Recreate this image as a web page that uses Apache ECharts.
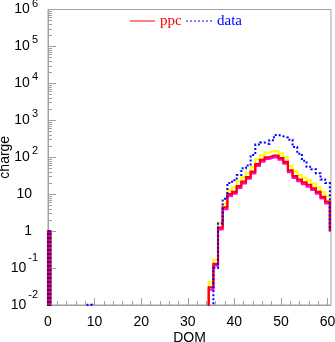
<!DOCTYPE html>
<html><head><meta charset="utf-8">
<script src="https://cdn.jsdelivr.net/npm/echarts@6/dist/echarts.min.js"></script>
<style>html,body{margin:0;padding:0;background:#fff}#c{width:335px;height:342px}</style>
</head><body><div id="c"></div>
<script>
// DOM bins 0..60 (bin centred on the integer)
const domBins = [];
for (let i = 0; i <= 60; i++) domBins.push(i);

// charge per DOM, simulation (ppc) -- 0 means empty bin
const ppc = [1, 0,0,0,0,0,0,0,0,0,0, 0,0,0,0,0,0,0,0,0,0, 0,0,0,0,0,0,0,0,0,0, 0,0,0,0,
  0.03, 0.13, 1.25, 4.4, 10, 11.5, 16.5, 22, 29, 41, 65, 85, 100, 110, 110, 95, 75, 44, 31, 25, 21, 18, 14.5, 11.5, 8.5, 6.3];
// upper band of simulation
const ppcUpper = [1, 0,0,0,0,0,0,0,0,0,0, 0,0,0,0,0,0,0,0,0,0, 0,0,0,0,0,0,0,0,0,0, 0,0,0,0,
  0.042, 0.17, 1.7, 5.5, 13, 15.5, 22, 29, 38, 55, 88, 115, 135, 148, 148, 128, 100, 58, 42, 33, 28, 24, 19.5, 15.5, 11.5, 8.8];
// lower band of simulation
const ppcLower = [1, 0,0,0,0,0,0,0,0,0,0, 0,0,0,0,0,0,0,0,0,0, 0,0,0,0,0,0,0,0,0,0, 0,0,0,0,
  0.026, 0.115, 1.1, 3.9, 9, 10.3, 14.7, 19.6, 26, 36.5, 58, 76, 89, 98, 98, 85, 67, 39, 27.5, 22.3, 18.7, 16, 12.9, 10.2, 7.6, 5.6];
// measured data
const data = [1, 0,0,0,0,0,0,0,0,0.0102,0, 0,0,0,0,0,0,0,0,0,0, 0,0,0,0,0,0,0,0,0,0, 0,0,0,0,
  0, 0.1, 1.6, 7.5, 20, 24, 33, 50, 60, 115, 220, 250, 230, 290, 400, 370, 340, 300, 190, 125, 80, 55, 47, 37, 25, 20];

const xTickLabels = [0, 10, 20, 30, 40, 50, 60];
const xMinorTicks = [2,4,6,8,12,14,16,18,22,24,26,28,32,34,36,38,42,44,46,48,52,54,56,58];
const yDecades = [-2, -1, 0, 1, 2, 3, 4, 5, 6];
const edgeBase = 1;

const FLOOR = 1e-4;
function steps(vals) {
  const pts = [[0, FLOOR]];
  vals.forEach((v, k) => {
    const y = v > 0 ? v : FLOOR;
    pts.push([Math.max(domBins[k] - 0.5, 0), y], [domBins[k] + 0.5, y]);
  });
  pts.push([domBins[domBins.length - 1] + 0.5, edgeBase]);
  return pts;
}

const minorLog = [];
for (let d = -2; d < 6; d++) for (let m = 2; m <= 9; m++) minorLog.push(d + Math.log10(m));

const chart = echarts.init(document.getElementById('c'), null, {renderer: 'canvas'});
const FONT = 'Liberation Sans';
const axisGray = '#a0a0a0';

function lineSeries(name, vals, color, width, type, z) {
  return {
    name, type: 'line', data: steps(vals), showSymbol: false, symbol: 'none',
    clip: true, animation: false, z,
    lineStyle: {color, width, type: type || 'solid', cap: 'butt', join: 'miter'}
  };
}

chart.setOption({
  animation: false,
  backgroundColor: '#fff',
  grid: {left: 48, right: 4, top: 9.5, bottom: 37, show: true, borderColor: axisGray, borderWidth: 1, containLabel: false, outerBoundsMode: 'none'},
  xAxis: [{
    type: 'value', min: 0, max: 60.75, interval: 10, position: 'bottom',
    name: 'DOM', nameLocation: 'middle', nameGap: 26, nameMoveOverlap: false,
    nameTextStyle: {fontFamily: FONT, fontSize: 14, color: '#000'},
    axisLine: {onZero: false, lineStyle: {color: axisGray}},
    axisTick: {inside: true, length: 7, lineStyle: {color: axisGray}},
    axisLabel: {fontFamily: FONT, fontSize: 14, color: '#000', margin: 10, showMaxLabel: false},
    splitLine: {show: false}
  }, {
    type: 'value', min: 0, max: 60.75, position: 'bottom', gridIndex: 0,
    axisLine: {show: false, onZero: false},
    axisTick: {inside: true, length: 4, lineStyle: {color: axisGray}, customValues: xMinorTicks},
    axisLabel: {show: false},
    splitLine: {show: false}
  }],
  yAxis: [{
    type: 'log', logBase: 10, min: 0.01, max: 1e6, interval: 1, position: 'left',
    name: 'charge', nameLocation: 'middle', nameGap: 36, nameMoveOverlap: false,
    nameTextStyle: {fontFamily: FONT, fontSize: 14, color: '#000'},
    axisLine: {show: true, onZero: false, lineStyle: {color: axisGray}},
    axisTick: {inside: true, length: 8, lineStyle: {color: axisGray}},
    splitLine: {show: false},
    axisLabel: {
      margin: 10, fontFamily: FONT, fontSize: 14, color: '#000',
      formatter: function (v) {
        const n = Math.round(Math.log10(v));
        if (n === 0) return '{b|1}{sp|}';
        if (n === 1) return '{b|10}{sp|}';
        if (n < 0) return '{b|10}{n|' + n + '}';
        return '{b|10}{s|' + n + '}';
      },
      rich: {
        b: {fontFamily: FONT, fontSize: 14, color: '#000'},
        s: {fontFamily: FONT, fontSize: 11, color: '#000', padding: [0, 0, 12, 2]},
        n: {fontFamily: FONT, fontSize: 11, color: '#000', padding: [0, 0, 20, 2]},
        sp: {width: 6}
      }
    }
  }, {
    type: 'value', min: -2, max: 6, position: 'left', gridIndex: 0,
    axisLine: {show: false, onZero: false},
    axisTick: {inside: true, length: 4, lineStyle: {color: axisGray}, customValues: minorLog},
    axisLabel: {show: false},
    splitLine: {show: false}
  }],
  series: [
    lineSeries('upper', ppcUpper, '#ffff00', 2, 'solid', 1),
    lineSeries('lower', ppcLower, '#ff00ff', 2, 'solid', 2),
    lineSeries('ppc', ppc, '#ff0000', 2.2, 'solid', 3),
    lineSeries('data', data, '#0000ff', 2, [2, 2], 4)
  ],
  graphic: [
    {type: 'line', shape: {x1: 130, y1: 21, x2: 155, y2: 21}, style: {stroke: '#ff0000', lineWidth: 1}},
    {type: 'text', x: 160, y: 21, style: {text: 'ppc', fill: '#ff0000', font: '15px "Liberation Serif"', textVerticalAlign: 'middle'}},
    {type: 'line', shape: {x1: 186, y1: 21, x2: 213, y2: 21}, style: {stroke: '#0000ff', lineWidth: 1, lineDash: [2, 2]}},
    {type: 'text', x: 217, y: 21, style: {text: 'data', fill: '#0000ff', font: '15px "Liberation Serif"', textVerticalAlign: 'middle'}}
  ]
});
</script></body></html>
